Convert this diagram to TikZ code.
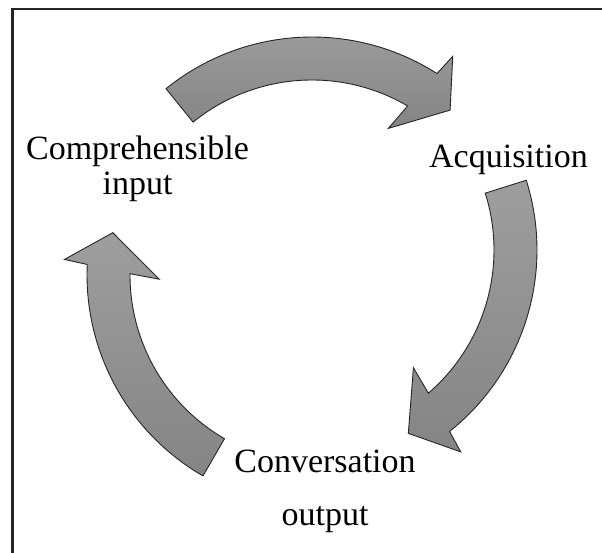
\documentclass[tikz,border=0pt]{standalone}
\usepackage{fontspec}
\setmainfont{Liberation Serif}

\begin{document}
\begin{tikzpicture}[
    x=1pt, y=1pt,
    frame/.style={draw=black!85, line width=2.6pt},
    cyclearrow/.style={draw=black!85, line width=0.9pt, line join=miter,
        top color=black!38, bottom color=black!48},
    label/.style={font=\fontsize{34}{35}\selectfont, align=center, inner sep=0pt}
]
% Dimensions
\def\Ro{232} \def\Ri{189} % outer and inner radius of the arrow bodies
\def\Rm{210.5}            % radius of the arrow tips
\def\bo{23} \def\bi{29}   % barb overhang outside and inside

% \arrowpart{center}{tail angle}{base angle}{tip angle}, running clockwise
\newcommand{\arrowpart}[4]{%
  \draw[cyclearrow, shift={(#1)}] (#2:\Ro)
    arc[start angle=#2, end angle={#3-1.1}, radius=\Ro]
    -- ({#3-2}:{\Ro+\bo}) -- (#4:\Rm) -- ({#3+3}:{\Ri-\bi})
    -- ({#3+1.1}:\Ri)
    arc[start angle={#3+1.1}, end angle=#2, radius=\Ri] -- cycle;}

\useasboundingbox (0,0) rectangle (602,552);
\clip (0,0) rectangle (602,552);

% Frame, only its left and top sides fall inside
\draw[frame] (12.7,-10) |- (620,543);

% Arrows
\arrowpart{312,283}{129}{58.5}{49}      % top
\arrowpart{305,302}{17.5}{-50.35}{-60.6} % right
\arrowpart{319,277}{240}{178.5}{168.4}  % left

% Labels (base = last line)
\node[label, anchor=base] (comp) at (137.5,357) {Comprehensible\\input};
\node[label, anchor=base] (acq) at (508.5,384) {Acquisition};
\node[label, anchor=base] (conv) at (325,27) {Conversation\\[18pt]output};

\end{tikzpicture}
\end{document}
